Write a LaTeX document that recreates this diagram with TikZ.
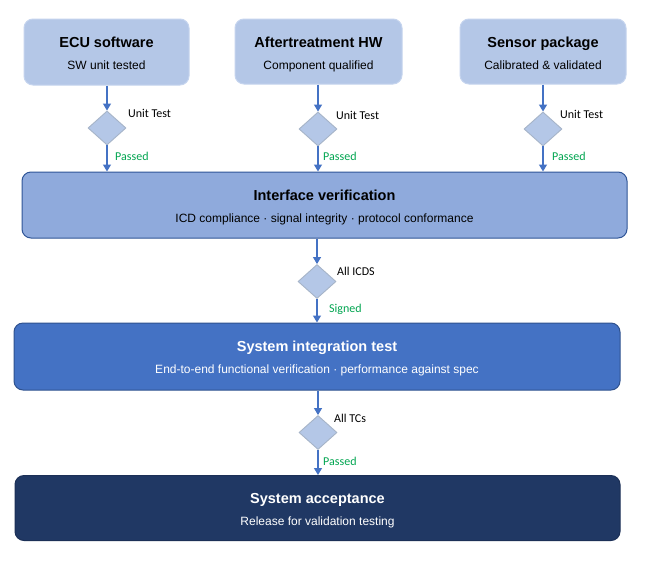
\documentclass[tikz,border=0pt]{standalone}
\usepackage{fontspec}
\setmainfont{Liberation Sans}
\newfontfamily\lblfont{Carlito}
\usetikzlibrary{shapes.geometric,arrows.meta}

\definecolor{stagepale}{HTML}{B4C7E7}
\definecolor{stagepaleedge}{HTML}{C5D4EE}
\definecolor{stagemid}{HTML}{8FAADC}
\definecolor{stagemidedge}{HTML}{2F5597}
\definecolor{stagestrong}{HTML}{4472C4}
\definecolor{stagestrongedge}{HTML}{2F528F}
\definecolor{stagedark}{HTML}{203864}
\definecolor{stagedarkedge}{HTML}{1C3057}
\definecolor{gateedge}{HTML}{A6B4C8}
\definecolor{flow}{HTML}{4472C4}
\definecolor{passgreen}{HTML}{00A550}

\tikzset{
  stagebox/.style={rectangle, rounded corners=9pt, line width=1pt, inner sep=0pt},
  topbox/.style={stagebox, fill=stagepale, draw=stagepaleedge},
  ifacebox/.style={stagebox, fill=stagemid, draw=stagemidedge},
  sitbox/.style={stagebox, fill=stagestrong, draw=stagestrongedge},
  accbox/.style={stagebox, fill=stagedark, draw=stagedarkedge},
  title/.style={anchor=base, inner sep=0pt, font=\fontsize{14.5}{17}\selectfont\bfseries},
  subtitle/.style={anchor=base, inner sep=0pt, font=\fontsize{12}{14}\selectfont},
  gate/.style={diamond, aspect=1.12, minimum width=38pt, minimum height=34pt, inner sep=0pt,
               fill=stagepale, draw=gateedge, line width=0.9pt},
  gatelabel/.style={anchor=base west, inner sep=0pt, font=\lblfont\fontsize{12}{14}\selectfont},
  passlabel/.style={gatelabel, text=passgreen},
  flowarrow/.style={draw=flow, line width=1.2pt, -{Triangle[length=7pt,width=8pt]}},
}

\begin{document}
\begin{tikzpicture}[x=1pt,y=-1pt]
\useasboundingbox (0,0) rectangle (647,571);
\fill[white] (0,0) rectangle (647,571);

% Component-level sources
\node[topbox, minimum width=165pt, minimum height=66pt] (ecu) at (106.5,52) {};
\node[title] (ecut) at (106.5,47) {ECU software};
\node[subtitle] (ecus) at (106.5,69) {SW unit tested};

\node[topbox, minimum width=167pt, minimum height=65pt] (hw) at (318.5,51.5) {};
\node[title] (hwt) at (318.5,47) {Aftertreatment HW};
\node[subtitle] (hws) at (318.5,69) {Component qualified};

\node[topbox, minimum width=166pt, minimum height=65pt] (sen) at (543,51.5) {};
\node[title] (sent) at (543,47) {Sensor package};
\node[subtitle] (sens) at (543,69) {Calibrated \& validated};

% Interface verification
\node[ifacebox, minimum width=605pt, minimum height=66pt] (iface) at (324.5,205) {};
\node[title] (ifacet) at (324.5,200) {Interface verification};
\node[subtitle] (ifaces) at (324.5,222) {ICD compliance · signal integrity · protocol conformance};

% System integration test
\node[sitbox, minimum width=606pt, minimum height=67pt] (sit) at (317,356.5) {};
\node[title, text=white] (sitt) at (317,351.5) {System integration test};
\node[subtitle, text=white] (sits) at (317,373.5) {End-to-end functional verification · performance against spec};

% System acceptance
\node[accbox, minimum width=605pt, minimum height=65pt] (acc) at (317.5,508) {};
\node[title, text=white] (acct) at (317.5,503) {System acceptance};
\node[subtitle, text=white] (accs) at (317.5,525) {Release for validation testing};

% Decision gates
\node[gate] (g1) at (107,128) {};
\node[gate] (g2) at (318,129) {};
\node[gate] (g3) at (543,129) {};
\node[gate] (g4) at (317,281.5) {};
\node[gate] (g5) at (318,432.5) {};

% Gate labels
\node[gatelabel] (g1l) at (128,117) {Unit Test};
\node[gatelabel] (g2l) at (336,119.5) {Unit Test};
\node[gatelabel] (g3l) at (560,118) {Unit Test};
\node[gatelabel] (g4l) at (337,275) {All ICDS};
\node[gatelabel] (g5l) at (334,422) {All TCs};

\node[passlabel] (g1p) at (115,160) {Passed};
\node[passlabel] (g2p) at (323,160) {Passed};
\node[passlabel] (g3p) at (552,160) {Passed};
\node[passlabel] (g4p) at (329,312.5) {Signed};
\node[passlabel] (g5p) at (323,465.5) {Passed};

% Flow connectors
\draw[flowarrow] (g1 |- ecu.south) -- (g1.north);
\draw[flowarrow] (g1.south) -- (g1 |- iface.north);
\draw[flowarrow] (g2 |- hw.south) -- (g2.north);
\draw[flowarrow] (g2.south) -- (g2 |- iface.north);
\draw[flowarrow] (g3 |- sen.south) -- (g3.north);
\draw[flowarrow] (g3.south) -- (g3 |- iface.north);
\draw[flowarrow] (g4 |- iface.south) -- (g4.north);
\draw[flowarrow] (g4.south) -- (g4 |- sit.north);
\draw[flowarrow] (g5 |- sit.south) -- (g5.north);
\draw[flowarrow] (g5.south) -- (g5 |- acc.north);
\end{tikzpicture}
\end{document}
